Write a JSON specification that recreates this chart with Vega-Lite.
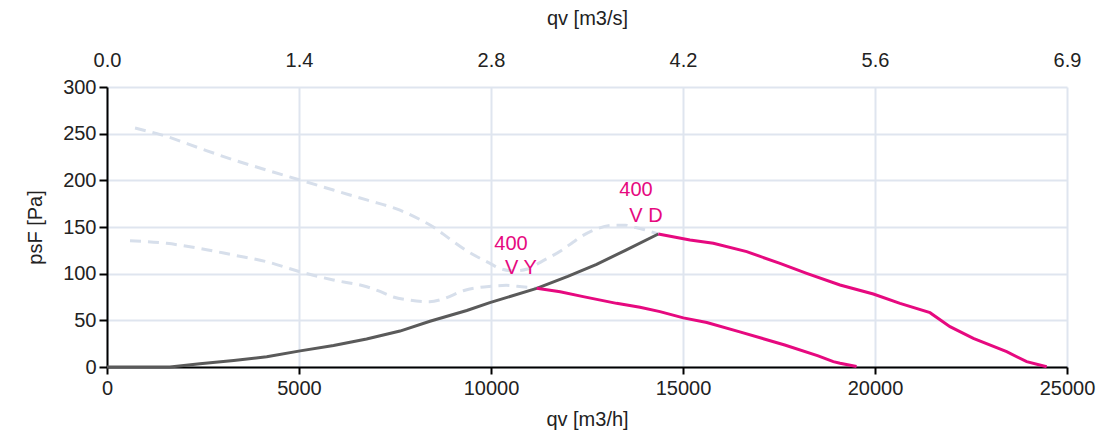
{
  "$schema": "https://vega.github.io/schema/vega-lite/v6.json",
  "width": 960,
  "height": 280,
  "autosize": {"type": "none"},
  "padding": {"left": 107, "top": 87, "right": 36, "bottom": 74},
  "background": "white",
  "config": {"view": {"stroke": null}, "font": "Liberation Sans"},
  "datasets": {
    "curves": [
      {"curve": "dashVD", "qv": 730, "psf": 256},
      {"curve": "dashVD", "qv": 1554, "psf": 247},
      {"curve": "dashVD", "qv": 2422, "psf": 234.3},
      {"curve": "dashVD", "qv": 3290, "psf": 222},
      {"curve": "dashVD", "qv": 4159, "psf": 211},
      {"curve": "dashVD", "qv": 5026, "psf": 200.4},
      {"curve": "dashVD", "qv": 5894, "psf": 189.6},
      {"curve": "dashVD", "qv": 6763, "psf": 179},
      {"curve": "dashVD", "qv": 7630, "psf": 168},
      {"curve": "dashVD", "qv": 8151, "psf": 158},
      {"curve": "dashVD", "qv": 8498, "psf": 150},
      {"curve": "dashVD", "qv": 8932, "psf": 137},
      {"curve": "dashVD", "qv": 9350, "psf": 125},
      {"curve": "dashVD", "qv": 9974, "psf": 111},
      {"curve": "dashVD", "qv": 10234, "psf": 105.5},
      {"curve": "dashVD", "qv": 10600, "psf": 103},
      {"curve": "dashVD", "qv": 10950, "psf": 105},
      {"curve": "dashVD", "qv": 11360, "psf": 114},
      {"curve": "dashVD", "qv": 11800, "psf": 124},
      {"curve": "dashVD", "qv": 12144, "psf": 134},
      {"curve": "dashVD", "qv": 12318, "psf": 139},
      {"curve": "dashVD", "qv": 12750, "psf": 148},
      {"curve": "dashVD", "qv": 13185, "psf": 152},
      {"curve": "dashVD", "qv": 13500, "psf": 152},
      {"curve": "dashVD", "qv": 13706, "psf": 150},
      {"curve": "dashVD", "qv": 14000, "psf": 147},
      {"curve": "dashVD", "qv": 14357, "psf": 142.5},
      {"curve": "dashVY", "qv": 599, "psf": 135.3},
      {"curve": "dashVY", "qv": 1554, "psf": 132.5},
      {"curve": "dashVY", "qv": 2422, "psf": 127},
      {"curve": "dashVY", "qv": 3290, "psf": 120},
      {"curve": "dashVY", "qv": 4159, "psf": 112.8},
      {"curve": "dashVY", "qv": 5026, "psf": 102},
      {"curve": "dashVY", "qv": 5894, "psf": 93.2},
      {"curve": "dashVY", "qv": 6763, "psf": 86},
      {"curve": "dashVY", "qv": 7110, "psf": 81},
      {"curve": "dashVY", "qv": 7456, "psf": 75},
      {"curve": "dashVY", "qv": 7900, "psf": 71.5},
      {"curve": "dashVY", "qv": 8400, "psf": 70},
      {"curve": "dashVY", "qv": 8758, "psf": 73},
      {"curve": "dashVY", "qv": 9300, "psf": 82},
      {"curve": "dashVY", "qv": 10000, "psf": 86.5},
      {"curve": "dashVY", "qv": 10400, "psf": 87.5},
      {"curve": "dashVY", "qv": 10800, "psf": 86},
      {"curve": "dashVY", "qv": 11190, "psf": 84.3},
      {"curve": "system", "qv": 0, "psf": 0},
      {"curve": "system", "qv": 1640, "psf": 0},
      {"curve": "system", "qv": 2420, "psf": 3.5},
      {"curve": "system", "qv": 3300, "psf": 7},
      {"curve": "system", "qv": 4160, "psf": 11},
      {"curve": "system", "qv": 5030, "psf": 17.3},
      {"curve": "system", "qv": 5900, "psf": 23},
      {"curve": "system", "qv": 6760, "psf": 30},
      {"curve": "system", "qv": 7630, "psf": 38.5},
      {"curve": "system", "qv": 8410, "psf": 49},
      {"curve": "system", "qv": 9370, "psf": 60.5},
      {"curve": "system", "qv": 9970, "psf": 69},
      {"curve": "system", "qv": 11190, "psf": 84.3},
      {"curve": "system", "qv": 12000, "psf": 97},
      {"curve": "system", "qv": 12750, "psf": 110},
      {"curve": "system", "qv": 13500, "psf": 125},
      {"curve": "system", "qv": 14357, "psf": 142.5},
      {"curve": "VY", "qv": 11190, "psf": 84.3},
      {"curve": "VY", "qv": 11800, "psf": 80.7},
      {"curve": "VY", "qv": 12400, "psf": 75.4},
      {"curve": "VY", "qv": 13270, "psf": 68.2},
      {"curve": "VY", "qv": 13880, "psf": 64},
      {"curve": "VY", "qv": 14400, "psf": 59.3},
      {"curve": "VY", "qv": 15010, "psf": 52.6},
      {"curve": "VY", "qv": 15620, "psf": 47.7},
      {"curve": "VY", "qv": 16480, "psf": 37.6},
      {"curve": "VY", "qv": 17650, "psf": 23.6},
      {"curve": "VY", "qv": 18520, "psf": 12},
      {"curve": "VY", "qv": 18914, "psf": 5.7},
      {"curve": "VY", "qv": 19090, "psf": 4},
      {"curve": "VY", "qv": 19520, "psf": 0.5},
      {"curve": "VD", "qv": 14357, "psf": 142.5},
      {"curve": "VD", "qv": 15182, "psf": 136},
      {"curve": "VD", "qv": 15790, "psf": 132.5},
      {"curve": "VD", "qv": 16659, "psf": 123.6},
      {"curve": "VD", "qv": 17526, "psf": 111},
      {"curve": "VD", "qv": 18221, "psf": 100.4},
      {"curve": "VD", "qv": 19089, "psf": 87.9},
      {"curve": "VD", "qv": 19956, "psf": 78.2},
      {"curve": "VD", "qv": 20651, "psf": 68.2},
      {"curve": "VD", "qv": 21432, "psf": 58.2},
      {"curve": "VD", "qv": 21953, "psf": 43.2},
      {"curve": "VD", "qv": 22561, "psf": 30.7},
      {"curve": "VD", "qv": 23429, "psf": 16.4},
      {"curve": "VD", "qv": 23950, "psf": 5.7},
      {"curve": "VD", "qv": 24471, "psf": 0.3}
    ],
    "labels": [
      {"qv": 13776, "psf": 189.6, "label": "400"},
      {"qv": 14036, "psf": 161.8, "label": "V D"},
      {"qv": 10520, "psf": 131.8, "label": "400"},
      {"qv": 10781, "psf": 106, "label": "V Y"}
    ]
  },
  "encoding": {
    "y": {
      "field": "psf",
      "type": "quantitative",
      "scale": {"domain": [0, 300], "nice": false, "zero": true},
      "axis": {
        "title": "psF [Pa]",
        "values": [0, 50, 100, 150, 200, 250, 300],
        "grid": true,
        "gridColor": "#dfe5ef",
        "gridWidth": 2,
        "domainColor": "#000000",
        "domainWidth": 2,
        "tickColor": "#000000",
        "tickWidth": 2,
        "tickSize": 8,
        "labelFontSize": 20,
        "labelColor": "#222222",
        "labelPadding": 3,
        "titleFontSize": 20,
        "titleFontWeight": "normal",
        "titleColor": "#222222",
        "titlePadding": 17
      }
    }
  },
  "resolve": {"axis": {"x": "independent"}},
  "layer": [
    {
      "data": {"name": "curves"},
      "transform": [{"filter": "datum.curve === 'dashVD' || datum.curve === 'dashVY'"}],
      "mark": {"type": "line", "color": "#d7dfeb", "strokeWidth": 3, "strokeDash": [11, 7], "interpolate": "monotone"},
      "encoding": {
        "x": {
          "field": "qv",
          "type": "quantitative",
          "scale": {"domain": [0, 25000], "nice": false},
          "axis": {
            "orient": "bottom",
            "title": "qv [m3/h]",
            "values": [0, 5000, 10000, 15000, 20000, 25000],
            "format": "d",
            "grid": true,
            "gridColor": "#dfe5ef",
            "gridWidth": 2,
            "domainColor": "#000000",
            "domainWidth": 2,
            "tickColor": "#000000",
            "tickWidth": 2,
            "tickSize": 7,
            "labelFontSize": 20,
            "labelColor": "#222222",
            "labelPadding": 4,
            "labelFlush": false,
            "titleFontSize": 20,
            "titleFontWeight": "normal",
            "titleColor": "#222222",
            "titlePadding": 11
          }
        },
        "detail": {"field": "curve"}
      }
    },
    {
      "data": {"name": "curves"},
      "transform": [{"filter": "datum.curve === 'system'"}],
      "mark": {"type": "line", "color": "#5a5a5a", "strokeWidth": 3},
      "encoding": {
        "x": {
          "field": "qv",
          "type": "quantitative",
          "scale": {"domain": [0, 25000], "nice": false},
          "axis": {
            "orient": "top",
            "title": "qv [m3/s]",
            "values": [0, 5000, 10000, 15000, 20000, 25000],
            "labelExpr": "format(datum.value / 3600, '.1f')",
            "grid": false,
            "domain": false,
            "ticks": false,
            "labelFontSize": 20,
            "labelColor": "#222222",
            "labelPadding": 17,
            "labelFlush": false,
            "titleFontSize": 20,
            "titleFontWeight": "normal",
            "titleColor": "#222222",
            "titlePadding": 22
          }
        }
      }
    },
    {
      "data": {"name": "curves"},
      "transform": [{"filter": "datum.curve === 'VY' || datum.curve === 'VD'"}],
      "mark": {"type": "line", "color": "#e6097f", "strokeWidth": 3},
      "encoding": {
        "x": {"field": "qv", "type": "quantitative", "scale": {"domain": [0, 25000], "nice": false}, "axis": null},
        "detail": {"field": "curve"}
      }
    },
    {
      "data": {"name": "labels"},
      "mark": {"type": "text", "color": "#e6097f", "fontSize": 20, "align": "center", "baseline": "middle"},
      "encoding": {
        "x": {"field": "qv", "type": "quantitative", "scale": {"domain": [0, 25000], "nice": false}, "axis": null},
        "text": {"field": "label"}
      }
    }
  ]
}
